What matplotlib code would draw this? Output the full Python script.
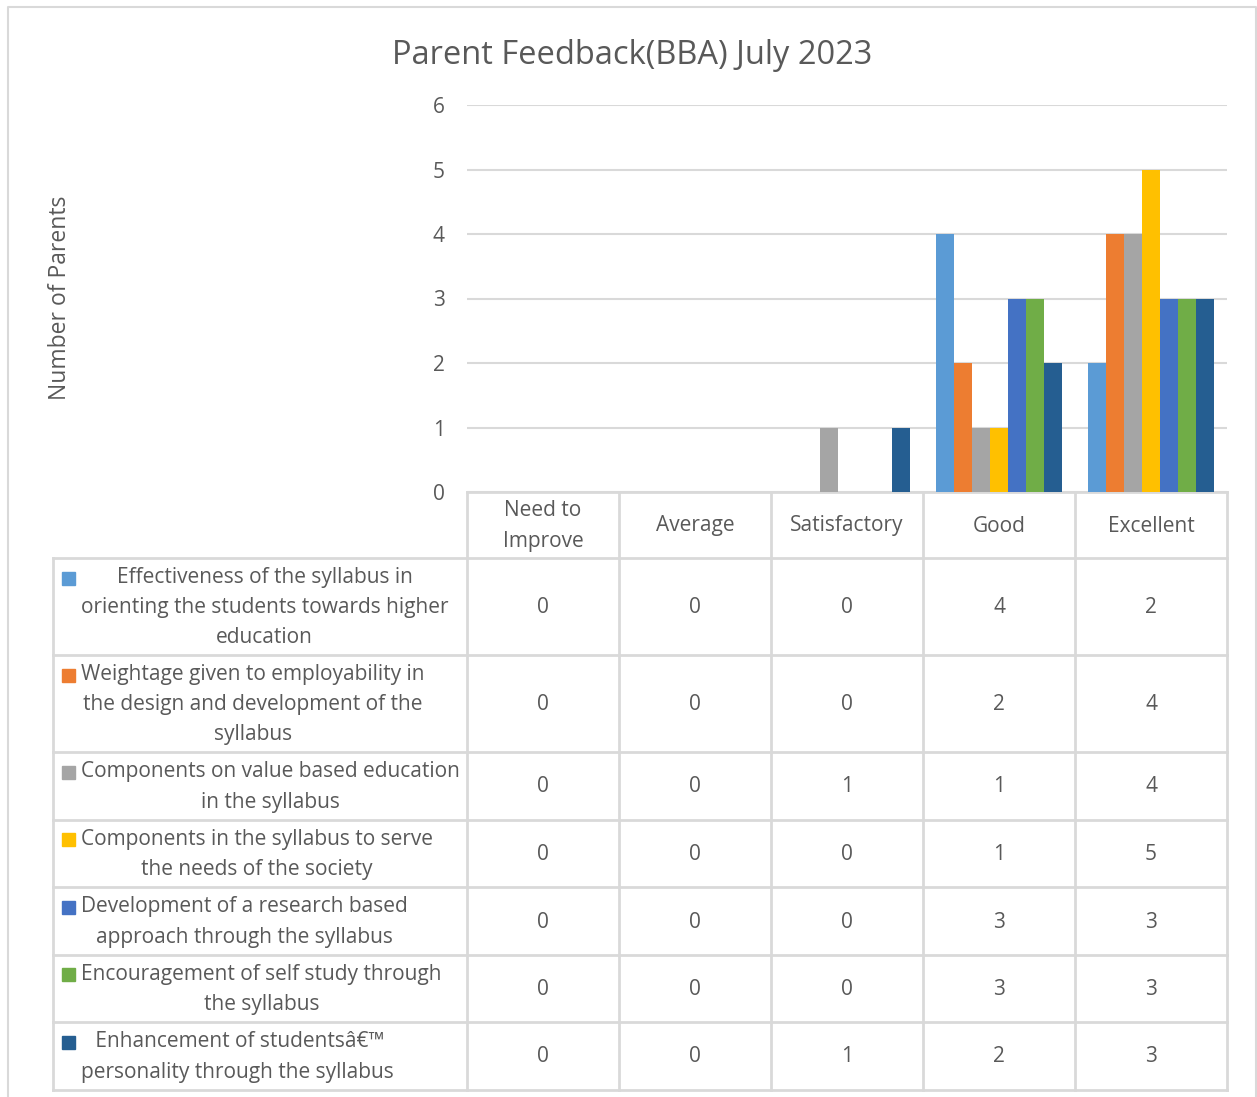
import matplotlib.pyplot as plt
from matplotlib.lines import Line2D
from matplotlib.patches import Rectangle

plt.rcParams['font.family'] = ['Open Sans', 'DejaVu Sans']

# dati del grafico
categories = ["Need to\nImprove", "Average", "Satisfactory", "Good", "Excellent"]
series_names = [
    "Effectiveness of the syllabus in\norienting the students towards higher\neducation",
    "Weightage given to employability in\nthe design and development of the\nsyllabus",
    "Components on value based education\nin the syllabus",
    "Components in the syllabus to serve\nthe needs of the society",
    "Development of a research based\napproach through the syllabus",
    "Encouragement of self study through\nthe syllabus",
    " Enhancement of studentsâ€™\npersonality through the syllabus",
]
values = [
    [0, 0, 0, 4, 2],
    [0, 0, 0, 2, 4],
    [0, 0, 1, 1, 4],
    [0, 0, 0, 1, 5],
    [0, 0, 0, 3, 3],
    [0, 0, 0, 3, 3],
    [0, 0, 1, 2, 3],
]
colors = ['#5B9BD5', '#ED7D31', '#A5A5A5', '#FFC000', '#4472C4', '#70AD47', '#255E91']
y_ticks = [0, 1, 2, 3, 4, 5, 6]

W, H = 1257, 1097
text_col = '#595959'
grid_col = '#D9D9D9'
fs = 15
lsp = 1.57

fig = plt.figure(figsize=(W / 100, H / 100), dpi=100)

# overlay in coordinate pixel per tabella e bordi
ov = fig.add_axes([0, 0, 1, 1])
ov.set_xlim(0, W)
ov.set_ylim(H, 0)
ov.axis('off')

# area del grafico a barre
x0, x1 = 467, 1227
y_top, y_bot = 105, 492
ax = fig.add_axes([x0 / W, 1 - y_bot / H, (x1 - x0) / W, (y_bot - y_top) / H])
n_cat = len(categories)
n_ser = len(values)
bw = 0.118
for i, vals in enumerate(values):
    xs = [c + (i - (n_ser - 1) / 2) * bw for c in range(n_cat)]
    ax.bar(xs, vals, width=bw, color=colors[i], zorder=3)
ax.set_xlim(-0.5, n_cat - 0.5)
ax.set_ylim(0, 6)
ax.set_yticks(y_ticks)
ax.set_yticklabels([str(t) for t in y_ticks], color=text_col, fontsize=fs)
ax.tick_params(axis='y', length=0, pad=16)
ax.set_xticks([])
for s in ax.spines.values():
    s.set_visible(False)
ax.grid(axis='y', color=grid_col, lw=1.5, zorder=0)
ax.set_axisbelow(True)

fig.text(632 / W, 1 - 55 / H, "Parent Feedback(BBA) July 2023", ha='center', va='center',
         fontsize=23.5, color=text_col)
fig.text(60 / W, 1 - 298 / H, "Number of Parents", ha='center', va='center', rotation=90,
         fontsize=16.5, color=text_col)

# bordo esterno
ov.plot([8, 8, 1256, 1256], [H + 5, 7, 7, H + 5], color=grid_col, lw=1.5)

# tabella dati
lc = '#D9D9D9'
col_edges = [x0 + k * (x1 - x0) / n_cat for k in range(n_cat + 1)]
row_edges = [558, 655, 752, 820, 887, 955, 1022, 1090]
left = 53
for xe in col_edges:
    ov.add_artist(Line2D([xe, xe], [y_bot, row_edges[-1]], color=lc, lw=2))
ov.add_artist(Line2D([left, left], [row_edges[0], row_edges[-1]], color=lc, lw=2))
ov.add_artist(Line2D([x0, x1], [y_bot, y_bot], color=lc, lw=2))
for ye in row_edges:
    ov.add_artist(Line2D([left, x1], [ye, ye], color=lc, lw=2))

for k, cat in enumerate(categories):
    cx = (col_edges[k] + col_edges[k + 1]) / 2
    ov.text(cx, (y_bot + row_edges[0]) / 2 + 1, cat, ha='center', va='center',
            multialignment='center', fontsize=fs, color=text_col, linespacing=lsp)

line_h = 29.5
for i, name in enumerate(series_names):
    ry = (row_edges[i] + row_edges[i + 1]) / 2
    n_lines = name.count('\n') + 1
    first_y = ry - (n_lines - 1) / 2 * line_h
    ov.add_patch(Rectangle((62, first_y - 5.5), 13, 13, color=colors[i]))
    ov.text(81, ry + 1, name, ha='left', va='center', multialignment='center',
            fontsize=fs, color=text_col, linespacing=lsp)
    for k in range(n_cat):
        cx = (col_edges[k] + col_edges[k + 1]) / 2
        ov.text(cx, ry + 1, str(values[i][k]), ha='center', va='center',
                fontsize=fs, color=text_col)

fig.savefig('out.png', dpi=100)
